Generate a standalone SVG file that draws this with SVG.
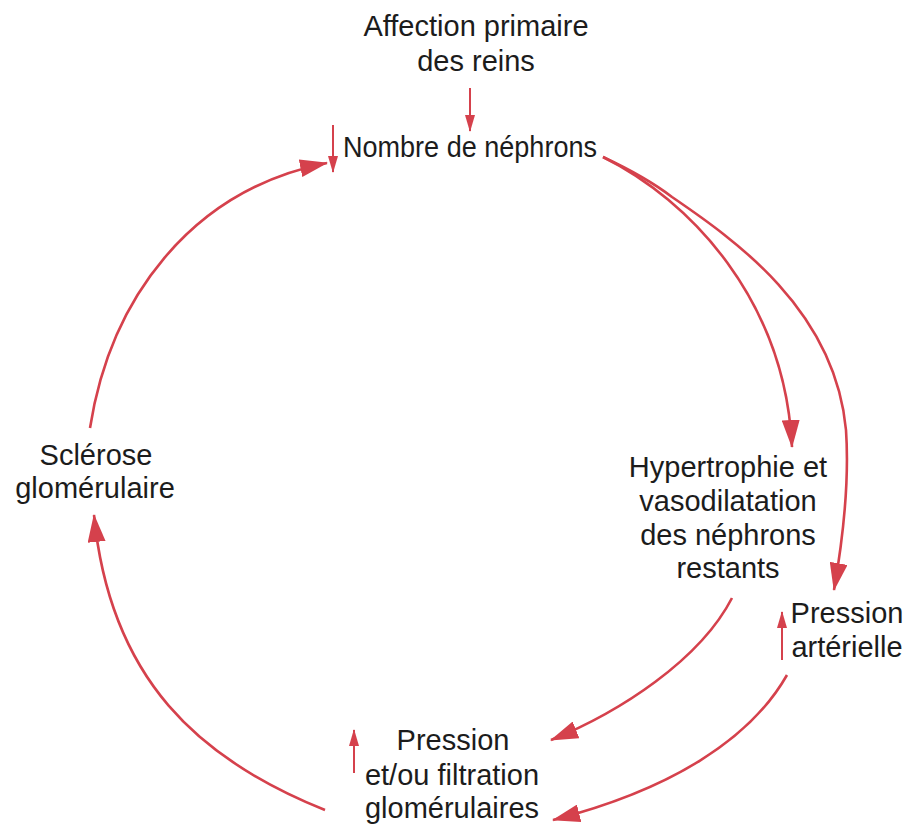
<svg xmlns="http://www.w3.org/2000/svg" width="907" height="825" viewBox="0 0 907 825">
  <style>
    .lbl { font-family: "Liberation Sans", Arial, Helvetica, sans-serif; font-size: 29px; fill: #1c1c1c; text-anchor: middle; }
    .edge { fill: none; stroke: #d5414c; stroke-width: 2.6; stroke-linecap: butt; }
    .trend { fill: none; stroke: #d5414c; stroke-width: 2; }
  </style>
  <defs>
    <marker id="head" viewBox="0 0 28 18" refX="27" refY="9" markerWidth="28" markerHeight="18" markerUnits="userSpaceOnUse" orient="auto">
      <path d="M0,0 L28,9 L0,18 z" fill="#d5414c"/>
    </marker>
    <marker id="tick" viewBox="0 0 17 10" refX="16" refY="5" markerWidth="17" markerHeight="10" markerUnits="userSpaceOnUse" orient="auto">
      <path d="M0,0 L17,5 L0,10 z" fill="#d5414c"/>
    </marker>
  </defs>

  <rect width="907" height="825" fill="#ffffff"/>

  <!-- connectors of the loop -->
  <g id="connectors">
    <path class="trend" d="M470,88 L470,131" marker-end="url(#tick)"/>
    <path class="edge" d="M603,157 C690,200 785,300 792,447" marker-end="url(#head)"/>
    <path class="edge" d="M603,157 C635,172 655,184 672,197 C735,240 835,310 846,430 C850,490 841,550 834,590" marker-end="url(#head)"/>
    <path class="edge" d="M732,598 C700,660 620,712 551,740" marker-end="url(#head)"/>
    <path class="edge" d="M787,675 C750,740 670,790 553,820" marker-end="url(#head)"/>
    <path class="edge" d="M325,810 C200,760 110,680 94,515" marker-end="url(#head)"/>
    <path class="edge" d="M90,428 C110,300 190,190 327,163" marker-end="url(#head)"/>
  </g>

  <g id="node-affection">
    <text class="lbl" x="476" y="36">Affection primaire</text>
    <text class="lbl" x="476" y="71">des reins</text>
  </g>

  <g id="node-nephrons">
    <path class="trend" d="M333,125 L333,172" marker-end="url(#tick)"/>
    <text class="lbl" x="470" y="157" textLength="254" lengthAdjust="spacingAndGlyphs">Nombre de néphrons</text>
  </g>

  <g id="node-hypertrophie">
    <text class="lbl" x="728" y="477">Hypertrophie et</text>
    <text class="lbl" x="728" y="511">vasodilatation</text>
    <text class="lbl" x="728" y="545">des néphrons</text>
    <text class="lbl" x="728" y="578">restants</text>
  </g>

  <g id="node-pression-arterielle">
    <path class="trend" d="M782,660 L782,612" marker-end="url(#tick)"/>
    <text class="lbl" x="847" y="623">Pression</text>
    <text class="lbl" x="847" y="657">artérielle</text>
  </g>

  <g id="node-pression-glomerulaire">
    <path class="trend" d="M354,773 L354,730" marker-end="url(#tick)"/>
    <text class="lbl" x="453" y="750">Pression</text>
    <text class="lbl" x="452" y="785">et/ou filtration</text>
    <text class="lbl" x="452" y="818">glomérulaires</text>
  </g>

  <g id="node-sclerose">
    <text class="lbl" x="96" y="465">Sclérose</text>
    <text class="lbl" x="95" y="498">glomérulaire</text>
  </g>
</svg>
